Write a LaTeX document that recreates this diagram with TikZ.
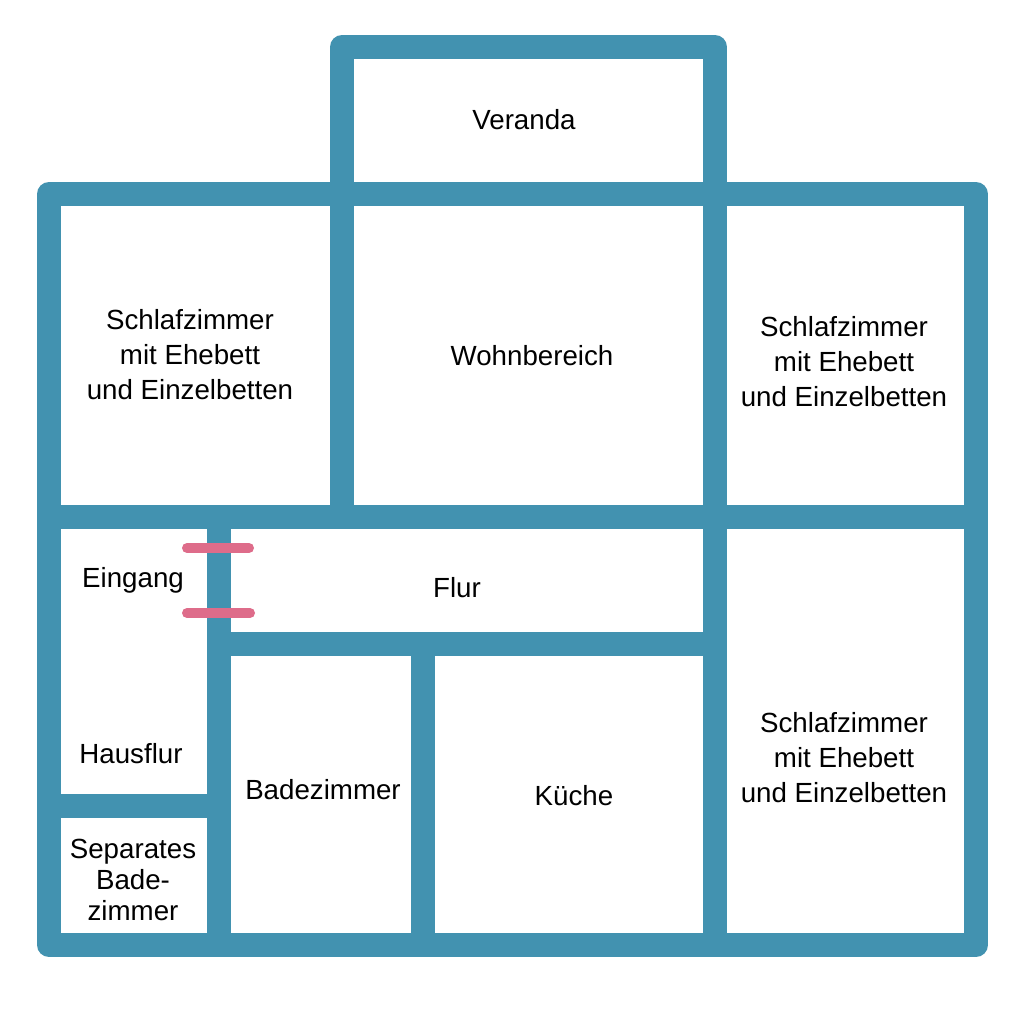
\documentclass[tikz,border=0pt]{standalone}
\usepackage{fontspec}
\setmainfont{Liberation Sans}
\definecolor{wallc}{RGB}{66,146,176}
\definecolor{doorc}{RGB}{222,108,138}
\begin{document}
\begin{tikzpicture}[x=1pt,y=-1pt,
  wall/.style={draw=wallc,line width=24pt,line join=round,line cap=round},
  iwall/.style={draw=wallc,line width=24pt,line cap=butt},
  doormark/.style={draw=doorc,line width=10pt,line cap=round},
  room/.style={inner sep=0pt,align=center,font=\fontsize{27.7}{35}\selectfont},
  smallroom/.style={inner sep=0pt,align=center,font=\fontsize{27.7}{31}\selectfont}]
\useasboundingbox[fill=white] (0,0) rectangle (1024,1010);
% coordinates of wall junctions
\coordinate (tl) at (49,194);
\coordinate (vl) at (342,194);
\coordinate (vtl) at (342,47);
\coordinate (vtr) at (715,47);
\coordinate (vr) at (715,194);
\coordinate (tr) at (976,194);
\coordinate (br) at (976,945);
\coordinate (bl) at (49,945);
% outer walls
\draw[wall] (tl) -- (vl) -- (vtl) -- (vtr) -- (vr) -- (tr) -- (br) -- (bl) -- cycle;
% interior walls
\coordinate (ml) at (49,517);
\coordinate (mr) at (976,517);
\coordinate (wb) at (342,517);
\coordinate (mb) at (715,945);
\coordinate (et) at (219,517);
\coordinate (eb) at (219,945);
\coordinate (fl) at (219,644);
\coordinate (fr) at (715,644);
\coordinate (kt) at (423,644);
\coordinate (kb) at (423,945);
\coordinate (hl) at (49,806);
\coordinate (hr) at (219,806);
\draw[iwall] (vl) -- (vr);
\draw[iwall] (vl) -- (wb);
\draw[iwall] (vr) -- (mb);
\draw[iwall] (ml) -- (mr);
\draw[iwall] (et) -- (eb);
\draw[iwall] (fl) -- (fr);
\draw[iwall] (kt) -- (kb);
\draw[iwall] (hl) -- (hr);
% door marks
\coordinate (d1a) at (187,548);
\coordinate (d1b) at (249,548);
\coordinate (d2a) at (187,613);
\coordinate (d2b) at (250,613);
\draw[doormark] (d1a) -- (d1b);
\draw[doormark] (d2a) -- (d2b);
% labels
\node[room] (veranda) at (524,120) {Veranda};
\node[room] (sz1) at (190,355) {Schlafzimmer\\mit Ehebett\\und Einzelbetten};
\node[room] (wohn) at (532,356) {Wohnbereich};
\node[room] (sz2) at (844,362) {Schlafzimmer\\mit Ehebett\\und Einzelbetten};
\node[room] (eing) at (133,580) {Eingang};
\node[room] (flur) at (457,588) {Flur};
\node[room] (haus) at (131,754) {Hausflur};
\node[room] (bad) at (323,790) {Badezimmer};
\node[room] (kueche) at (574,796) {Küche};
\node[room] (sz3) at (844,758) {Schlafzimmer\\mit Ehebett\\und Einzelbetten};
\node[smallroom] (sep) at (133,880) {Separates\\Bade-\\zimmer};
\end{tikzpicture}
\end{document}
